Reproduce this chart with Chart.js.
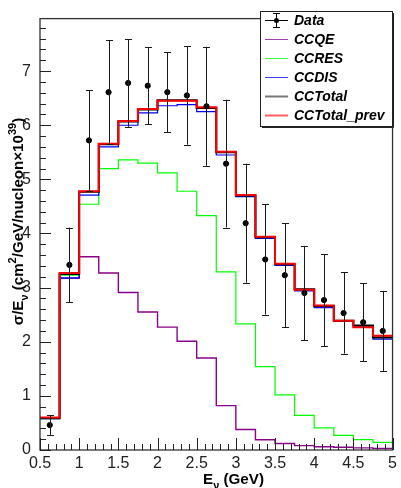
<!DOCTYPE html>
<html>
<head>
<meta charset="utf-8">
<script src="https://cdn.jsdelivr.net/npm/chart.js@4.4.1/dist/chart.umd.min.js"></script>
<style>
  body { margin: 0; background: #fff; }
</style>
</head>
<body>
<canvas id="xsecChart" width="401" height="488"></canvas>
<script>
// bin edges in GeV (18 bins of 0.25)
const binEdges = [0.5, 0.75, 1.0, 1.25, 1.5, 1.75, 2.0, 2.25, 2.5, 2.75, 3.0, 3.25, 3.5, 3.75, 4.0, 4.25, 4.5, 4.75, 5.0];

// data points and errors
const dataY   = [0.46, 3.42, 5.72, 6.61, 6.78, 6.73, 6.61, 6.55, 6.35, 5.29, 4.19, 3.52, 3.23, 2.90, 2.77, 2.53, 2.36, 2.20];
const dataErr = [0.18, 0.69, 0.93, 0.96, 0.81, 0.71, 0.74, 0.91, 1.10, 1.18, 1.10, 1.02, 0.96, 0.87, 0.85, 0.75, 0.72, 0.74];

// MC histograms
const ccqe        = [0.58, 3.17, 3.57, 3.27, 2.91, 2.55, 2.27, 2.01, 1.70, 0.82, 0.38, 0.19, 0.12, 0.08, 0.06, 0.05, 0.04, 0.03];
const ccres       = [0.58, 3.23, 4.54, 5.20, 5.36, 5.30, 5.12, 4.78, 4.33, 3.29, 2.33, 1.54, 1.02, 0.64, 0.41, 0.27, 0.19, 0.14];
const ccdis       = [0.58, 3.18, 4.71, 5.60, 6.00, 6.23, 6.36, 6.38, 6.25, 5.45, 4.68, 3.91, 3.41, 2.94, 2.63, 2.38, 2.27, 2.05];
const ccTotal     = [0.59, 3.25, 4.77, 5.65, 6.07, 6.29, 6.46, 6.46, 6.32, 5.50, 4.70, 3.93, 3.43, 2.97, 2.66, 2.39, 2.30, 2.08];
const ccTotalPrev = [0.60, 3.27, 4.78, 5.66, 6.08, 6.30, 6.45, 6.45, 6.33, 5.51, 4.71, 3.94, 3.44, 2.96, 2.67, 2.39, 2.27, 2.11];

// axis tick labels
const xTicks = [0.5, 1, 1.5, 2, 2.5, 3, 3.5, 4, 4.5, 5];
const yTicks = [0, 1, 2, 3, 4, 5, 6, 7];

const legendNames = ["Data", "CCQE", "CCRES", "CCDIS", "CCTotal", "CCTotal_prev"];

const FONT = '"Liberation Sans", Arial, Helvetica, sans-serif';

// histogram -> step points (left edges + final right edge)
function stepPoints(values) {
    return binEdges.map((e, i) => ({ x: e, y: values[Math.min(i, values.length - 1)] }));
}
const binCenters = dataY.map((v, i) => (binEdges[i] + binEdges[i + 1]) / 2);

function histSet(label, values, color, width) {
    return {
        label: label,
        data: stepPoints(values),
        borderColor: color,
        borderWidth: width,
        stepped: "before",
        pointRadius: 0,
        fill: false,
        tension: 0
    };
}

// frame, ROOT style inner ticks, error bars, titles and legend
const rootStyle = {
    id: "rootStyle",
    afterDatasetsDraw(chart) {
        const ctx = chart.ctx;
        const xs = chart.scales.x, ys = chart.scales.y;
        ctx.save();
        ctx.strokeStyle = "#1a1a1a";
        ctx.lineWidth = 1;
        dataY.forEach((v, i) => {
            const px = Math.round(xs.getPixelForValue(binCenters[i])) + 0.5;
            const top = ys.getPixelForValue(v + dataErr[i]);
            const bot = ys.getPixelForValue(v - dataErr[i]);
            ctx.beginPath();
            ctx.moveTo(px, top); ctx.lineTo(px, bot);
            ctx.moveTo(px - 3.5, Math.round(top) + 0.5); ctx.lineTo(px + 3.5, Math.round(top) + 0.5);
            ctx.moveTo(px - 3.5, Math.round(bot) + 0.5); ctx.lineTo(px + 3.5, Math.round(bot) + 0.5);
            ctx.stroke();
        });
        ctx.restore();
    },
    afterDraw(chart) {
        const ctx = chart.ctx;
        const a = chart.chartArea;
        const xs = chart.scales.x, ys = chart.scales.y;
        ctx.save();

        // frame
        ctx.strokeStyle = "#333";
        ctx.lineWidth = 1.3;
        ctx.strokeRect(a.left, a.top, a.right - a.left, a.bottom - a.top);

        // x ticks (major 0.5, minor 0.1)
        ctx.lineWidth = 1;
        ctx.strokeStyle = "#222";
        ctx.beginPath();
        for (let k = 0; k <= 45; k++) {
            const v = 0.5 + k * 0.1;
            const major = xTicks.some(t => Math.abs(t - v) < 1e-6);
            const px = Math.round(xs.getPixelForValue(v)) + 0.5;
            ctx.moveTo(px, a.bottom);
            ctx.lineTo(px, a.bottom - (major ? 12 : 6));
        }
        // y ticks (major 1, minor 0.2)
        for (let k = 0; k <= 39; k++) {
            const v = k * 0.2;
            const major = yTicks.some(t => Math.abs(t - v) < 1e-6);
            const py = Math.round(ys.getPixelForValue(v)) + 0.5;
            ctx.moveTo(a.left, py);
            ctx.lineTo(a.left + (major ? 11 : 6), py);
        }
        ctx.stroke();

        // axis titles (bold, with sub/superscripts), sized to a target length
        ctx.fillStyle = "#000";
        ctx.textBaseline = "alphabetic";
        ctx.textAlign = "left";
        const partFont = (p, size) => "bold " + (p.sub || p.sup ? Math.round(size * 0.7) : size) + "px " + FONT;
        const richWidths = (parts, size) => parts.map(p => {
            ctx.font = partFont(p, size);
            return ctx.measureText(p.t).width;
        });
        const fitSize = (parts, base, target) => {
            const w = richWidths(parts, base).reduce((s, v) => s + v, 0);
            return Math.max(11, Math.min(17, base * target / w));
        };
        const renderRich = (parts, size) => {
            const widths = richWidths(parts, size);
            const total = widths.reduce((s, v) => s + v, 0);
            let x = -total / 2;
            parts.forEach((p, i) => {
                ctx.font = partFont(p, size);
                const dy = p.sub ? size * 0.3 : (p.sup ? -size * 0.45 : 0);
                ctx.fillText(p.t, x, dy);
                x += widths[i];
            });
        };

        const yTitle = [
            { t: "σ/E" }, { t: "ν", sub: true }, { t: " (cm" }, { t: "2", sup: true },
            { t: "/GeV/nucleon×10" }, { t: "39", sup: true }, { t: ")" }
        ];
        ctx.save();
        ctx.translate(23, 221.5);
        ctx.rotate(-Math.PI / 2);
        renderRich(yTitle, fitSize(yTitle, 14, 207));
        ctx.restore();

        const xTitle = [{ t: "E" }, { t: "ν", sub: true }, { t: " (GeV)" }];
        ctx.save();
        ctx.translate(233.5, 484);
        renderRich(xTitle, fitSize(xTitle, 15, 61));
        ctx.restore();

        // legend box
        const lx = 260, ly = 11, lw = 132, lh = 115;
        ctx.fillStyle = "#fff";
        ctx.fillRect(lx, ly, lw, lh);
        ctx.strokeStyle = "#222";
        ctx.lineWidth = 1;
        ctx.strokeRect(lx + 0.5, ly + 0.5, lw, lh);
        ctx.beginPath();
        ctx.moveTo(lx + lw + 1.5, ly + 2); ctx.lineTo(lx + lw + 1.5, ly + lh + 1.5); ctx.lineTo(lx + 2, ly + lh + 1.5);
        ctx.stroke();

        const legendColors = [null, "#a040b0", "#40ff40", "#3f3fff", "#777", "#ff6060"];
        const rowY = [20, 39, 58, 77, 96, 115];
        ctx.font = "italic bold 14px " + FONT;
        ctx.textBaseline = "middle";
        legendNames.forEach((name, i) => {
            const y = rowY[i] + 0.5;
            ctx.beginPath();
            if (i === 0) {
                ctx.strokeStyle = "#000";
                ctx.lineWidth = 1;
                ctx.moveTo(265, y); ctx.lineTo(288, y);
                ctx.moveTo(276.5, y - 7); ctx.lineTo(276.5, y + 7);
                ctx.moveTo(273, y - 7); ctx.lineTo(280, y - 7);
                ctx.moveTo(273, y + 7); ctx.lineTo(280, y + 7);
                ctx.stroke();
                ctx.beginPath();
                ctx.fillStyle = "#000";
                ctx.arc(276.5, y, 2.5, 0, Math.PI * 2);
                ctx.fill();
            } else {
                ctx.strokeStyle = legendColors[i];
                ctx.lineWidth = (i >= 4) ? 2 : 1;
                ctx.moveTo(265, y); ctx.lineTo(288, y);
                ctx.stroke();
            }
            ctx.fillStyle = "#000";
            ctx.fillText(name, 294, rowY[i] + 1);
        });

        ctx.restore();
    }
};

new Chart(document.getElementById("xsecChart"), {
    type: "line",
    data: {
        datasets: [
            {
                type: "scatter",
                label: "Data",
                data: dataY.map((v, i) => ({ x: binCenters[i], y: v })),
                backgroundColor: "#000",
                borderColor: "#000",
                pointRadius: 2.6,
                pointHoverRadius: 2.6,
                showLine: false
            },
            histSet("CCTotal_prev", ccTotalPrev, "#ff0000", 2),
            histSet("CCTotal", ccTotal, "#000000", 2),
            histSet("CCDIS", ccdis, "#0000ff", 1.2),
            histSet("CCRES", ccres, "#00ff00", 1.2),
            histSet("CCQE", ccqe, "#8b008b", 1.4)
        ]
    },
    options: {
        responsive: false,
        animation: false,
        events: [],
        layout: { padding: { top: 5, right: 4, left: 0, bottom: 0 } },
        plugins: {
            legend: { display: false },
            tooltip: { enabled: false }
        },
        scales: {
            x: {
                type: "linear",
                min: 0.5,
                max: 5,
                afterBuildTicks: s => { s.ticks = xTicks.map(v => ({ value: v })); },
                afterFit: s => { s.height = 38; },
                grid: { display: false, drawTicks: false },
                border: { display: false },
                ticks: {
                    autoSkip: false,
                    maxRotation: 0,
                    padding: 4,
                    color: "#222",
                    font: { family: FONT, size: 16 },
                    callback: v => String(v)
                }
            },
            y: {
                type: "linear",
                min: 0,
                max: 7.97,
                afterBuildTicks: s => { s.ticks = yTicks.map(v => ({ value: v })); },
                afterFit: s => { s.width = 40; },
                grid: { display: false, drawTicks: false },
                border: { display: false },
                ticks: {
                    padding: 9,
                    color: "#222",
                    font: { family: FONT, size: 16 },
                    callback: v => String(v)
                }
            }
        }
    },
    plugins: [rootStyle]
});
</script>
</body>
</html>
